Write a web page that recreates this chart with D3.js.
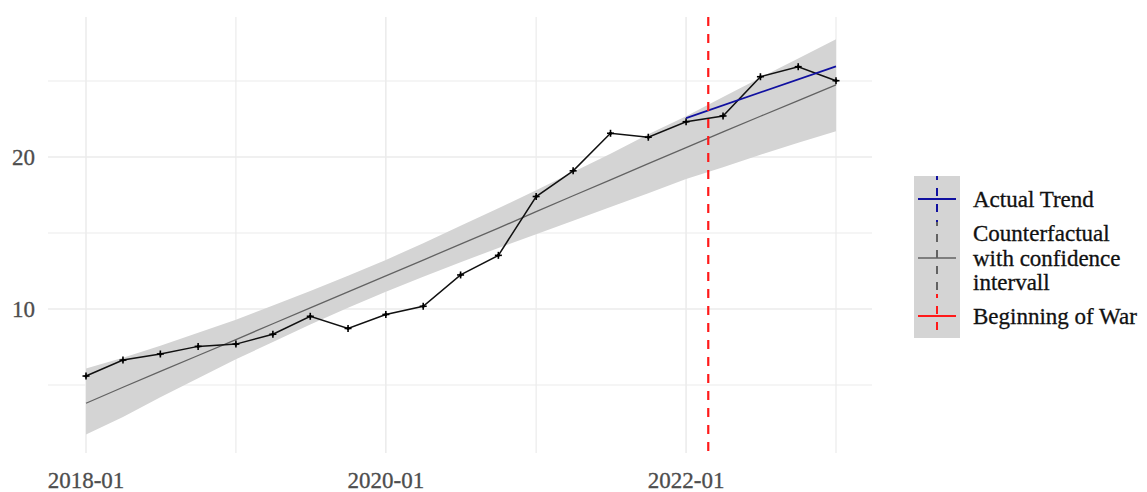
<!DOCTYPE html>
<html>
<head>
<meta charset="utf-8">
<script src="https://cdn.jsdelivr.net/npm/d3@7"></script>
<style>
  html, body { margin: 0; padding: 0; background: #ffffff; }
  svg { display: block; }
  text { font-family: "Liberation Serif", "Times New Roman", serif; }
</style>
</head>
<body>
<svg id="chart" width="1147" height="492"></svg>
<script>
// Quarterly observations
const quarters = ["2018-01-01","2018-04-01","2018-07-01","2018-10-01",
                  "2019-01-01","2019-04-01","2019-07-01","2019-10-01",
                  "2020-01-01","2020-04-01","2020-07-01","2020-10-01",
                  "2021-01-01","2021-04-01","2021-07-01","2021-10-01",
                  "2022-01-01","2022-04-01","2022-07-01","2022-10-01",
                  "2023-01-01"];
const actual = [5.59, 6.64, 7.04, 7.54, 7.69, 8.34, 9.52, 8.72, 9.64, 10.18, 12.24,
                13.53, 17.40, 19.09, 21.56, 21.30, 22.32, 22.70, 25.28, 25.94, 25.02];
// Counterfactual prediction and its confidence band
const counterfactual = [3.80, 4.85, 5.89, 6.94, 7.99, 9.03, 10.08, 11.13, 12.18, 13.22, 14.27,
                        15.32, 16.40, 17.45, 18.50, 19.56, 20.62, 21.65, 22.68, 23.71, 24.74];
const lower = [1.75, 2.90, 4.19, 5.44, 6.69, 7.83, 8.98, 10.08, 11.13, 12.12, 13.07,
               14.02, 14.91, 15.81, 16.71, 17.61, 18.55, 19.32, 20.15, 20.94, 21.70];
const upper = [6.08, 6.80, 7.59, 8.44, 9.29, 10.23, 11.18, 12.18, 13.23, 14.32, 15.47,
               16.62, 17.81, 19.01, 20.21, 21.50, 22.68, 23.95, 25.22, 26.48, 27.74];
// Post-invasion trend
const trendDates = ["2022-01-01", "2023-01-01"];
const trendValues = [22.56, 25.96];
const warDate = "2022-02-24";
// Axis ticks
const yearGrid = ["2018-01-01","2019-01-01","2020-01-01","2021-01-01","2022-01-01","2023-01-01"];
const xTickLabels = ["2018-01-01","2020-01-01","2022-01-01"];
const yMajor = [10, 20];
const yMinor = [5, 15, 25];
const legendItems = ["Actual Trend", "Counterfactual\nwith confidence\nintervall", "Beginning of War"];

const parse = d3.utcParse("%Y-%m-%d");
const fmt = d3.utcFormat("%Y-%m");

const panel = { left: 48, right: 872, top: 17, bottom: 453 };

const x = d3.scaleUtc()
  .domain([parse("2018-01-01"), parse("2023-01-01")])
  .range([86, 836]);
const y = d3.scaleLinear()
  .domain([0.526, 29.21])
  .range([panel.bottom, panel.top]);

const svg = d3.select("#chart");

// Grid
const grid = svg.append("g").attr("stroke", "#ebebeb").attr("fill", "none");
yMinor.concat(yMajor).forEach(v => {
  grid.append("line")
    .attr("x1", panel.left).attr("x2", panel.right)
    .attr("y1", y(v)).attr("y2", y(v))
    .attr("stroke-width", yMajor.includes(v) ? 1.5 : 1.2);
});
yearGrid.forEach(d => {
  grid.append("line")
    .attr("x1", x(parse(d))).attr("x2", x(parse(d)))
    .attr("y1", panel.top).attr("y2", panel.bottom)
    .attr("stroke-width", xTickLabels.includes(d) ? 1.5 : 1.2);
});

const rows = quarters.map((q, i) => ({
  date: parse(q), actual: actual[i], cf: counterfactual[i], lo: lower[i], hi: upper[i]
}));

// Confidence band
svg.append("path")
  .datum(rows)
  .attr("fill", "#d4d4d4")
  .attr("d", d3.area().x(d => x(d.date)).y0(d => y(d.lo)).y1(d => y(d.hi)));

// Counterfactual line
svg.append("path")
  .datum(rows)
  .attr("fill", "none")
  .attr("stroke", "#626262")
  .attr("stroke-width", 1.3)
  .attr("d", d3.line().x(d => x(d.date)).y(d => y(d.cf)));

// Observed series
svg.append("path")
  .datum(rows)
  .attr("fill", "none")
  .attr("stroke", "#111111")
  .attr("stroke-width", 1.5)
  .attr("d", d3.line().x(d => x(d.date)).y(d => y(d.actual)));

const pts = svg.append("g").attr("stroke", "#000").attr("stroke-width", 1.6);
rows.forEach(d => {
  const cx = x(d.date), cy = y(d.actual);
  pts.append("line").attr("x1", cx - 3.5).attr("x2", cx + 3.5).attr("y1", cy).attr("y2", cy);
  pts.append("line").attr("x1", cx).attr("x2", cx).attr("y1", cy - 3.5).attr("y2", cy + 3.5);
  pts.append("circle").attr("cx", cx).attr("cy", cy).attr("r", 1.6).attr("fill", "#000").attr("stroke", "none");
});

// Actual trend after the war began
svg.append("path")
  .datum(trendDates.map((t, i) => ({ date: parse(t), v: trendValues[i] })))
  .attr("fill", "none")
  .attr("stroke", "#1010a0")
  .attr("stroke-width", 1.7)
  .attr("d", d3.line().x(d => x(d.date)).y(d => y(d.v)));

// Beginning of war marker
svg.append("line")
  .attr("x1", x(parse(warDate))).attr("x2", x(parse(warDate)))
  .attr("y1", panel.top).attr("y2", panel.bottom)
  .attr("stroke", "#ff1a1a")
  .attr("stroke-width", 2.2)
  .attr("stroke-dasharray", "9,8");

// Axes labels
svg.append("g").selectAll("text")
  .data(xTickLabels)
  .join("text")
  .attr("x", d => x(parse(d)))
  .attr("y", 488)
  .attr("text-anchor", "middle")
  .attr("font-size", 23)
  .attr("fill", "#4d4d4d")
  .attr("stroke", "#4d4d4d")
  .attr("stroke-width", 0.3)
  .text(d => fmt(parse(d)));

svg.append("g").selectAll("text")
  .data(yMajor)
  .join("text")
  .attr("x", 35)
  .attr("y", d => y(d))
  .attr("dy", "0.34em")
  .attr("text-anchor", "end")
  .attr("font-size", 23)
  .attr("fill", "#4d4d4d")
  .attr("stroke", "#4d4d4d")
  .attr("stroke-width", 0.3)
  .text(d => d);

// Legend
const legend = svg.append("g");
const keyX = 914, keyW = 46, keyMid = keyX + keyW / 2;
const keyRows = [
  { top: 176, h: 46, color: "#1010a0", width: 2.0 },
  { top: 222, h: 72, color: "#626262", width: 1.7 },
  { top: 294, h: 44, color: "#ff1a1a", width: 2.0 }
];
legend.append("rect")
  .attr("x", keyX).attr("y", keyRows[0].top)
  .attr("width", keyW)
  .attr("height", keyRows[2].top + keyRows[2].h - keyRows[0].top)
  .attr("fill", "#d4d4d4");

keyRows.forEach((r, i) => {
  const cy = r.top + r.h / 2;
  legend.append("line")
    .attr("x1", keyMid).attr("x2", keyMid)
    .attr("y1", r.top).attr("y2", r.top + r.h)
    .attr("stroke", r.color).attr("stroke-width", 2)
    .attr("stroke-dasharray", "8,8")
    .attr("stroke-dashoffset", 4);
  legend.append("line")
    .attr("x1", keyX + 4).attr("x2", keyX + keyW - 4)
    .attr("y1", cy).attr("y2", cy)
    .attr("stroke", r.color).attr("stroke-width", r.width);

  const lines = legendItems[i].split("\n");
  const lh = 24.5;
  const t = legend.append("text")
    .attr("x", 973)
    .attr("font-size", 23)
    .attr("fill", "#111")
    .attr("stroke", "#111")
    .attr("stroke-width", 0.3);
  lines.forEach((ln, j) => {
    t.append("tspan")
      .attr("x", 973)
      .attr("y", cy + (j - (lines.length - 1) / 2) * lh)
      .attr("dy", "0.34em")
      .text(ln);
  });
});
</script>
</body>
</html>
